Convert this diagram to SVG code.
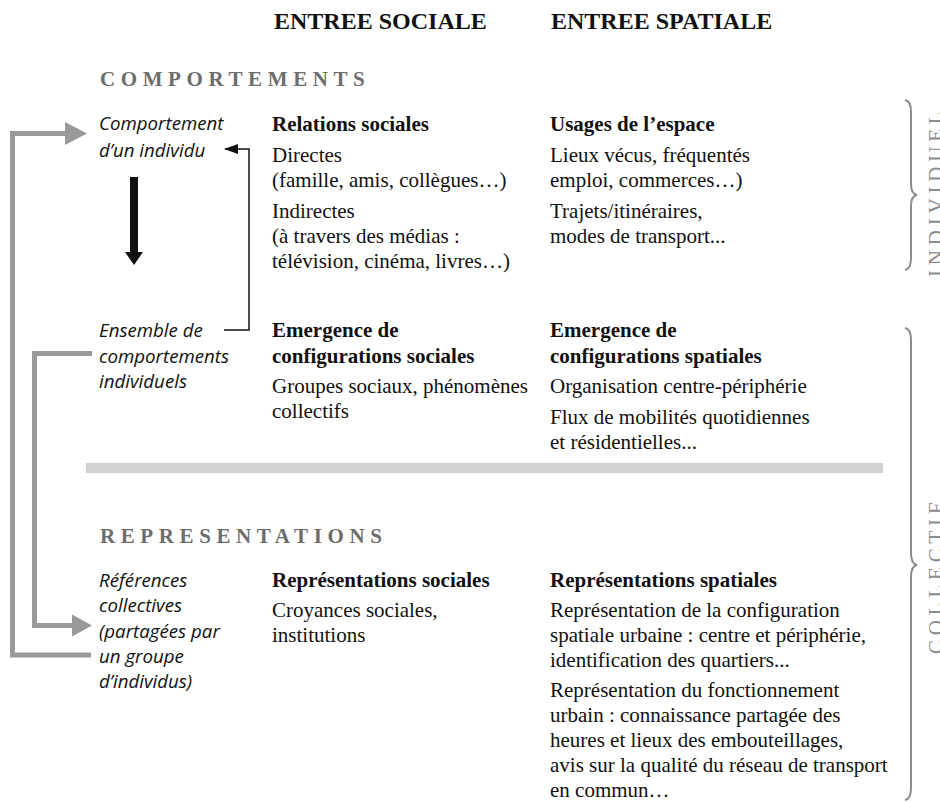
<svg xmlns="http://www.w3.org/2000/svg" width="940" height="803" viewBox="0 0 940 803">
<style>
  .hd { font-family: "Liberation Serif", serif; font-weight: bold; font-size: 24px; fill: #111; }
  .sec { font-family: "Liberation Serif", serif; font-weight: bold; font-size: 21px; fill: #6d6d6d; letter-spacing: 5.6px; }
  .side { font-family: "Liberation Serif", serif; font-size: 21px; fill: #8c8c8c; letter-spacing: 4.8px; }
  .b { font-family: "Liberation Serif", serif; font-weight: bold; font-size: 21px; fill: #111; }
  .t { font-family: "Liberation Serif", serif; font-size: 21px; fill: #111; }
  .it { font-family: "Open Sans", "Noto Sans", sans-serif; font-style: italic; font-size: 18.7px; fill: #111; }
  .garrow { fill: none; stroke: #999999; stroke-width: 5; }
  .brace { fill: none; stroke: #8c8c8c; stroke-width: 2; }
</style>
<defs>
  <marker id="ah" markerWidth="14" markerHeight="10" refX="13" refY="5" orient="auto" markerUnits="userSpaceOnUse">
    <path d="M0,0 L14,5 L0,10 Z" fill="#111"/>
  </marker>
</defs>
<rect width="940" height="803" fill="#ffffff"/>

<g id="headers">
  <text class="hd" x="274" y="29">ENTREE SOCIALE</text>
  <text class="hd" x="551" y="29">ENTREE SPATIALE</text>
  <text class="sec" x="100" y="86">COMPORTEMENTS</text>
  <text class="sec" x="100" y="543">REPRESENTATIONS</text>
</g>

<g id="separator">
  <rect x="86" y="463" width="797" height="10" fill="#d2d2d2"/>
</g>

<g id="node-comportement-individu">
  <text class="it" x="99" y="130">Comportement</text>
  <text class="it" x="99" y="157">d’un individu</text>
</g>
<g id="node-relations-sociales">
  <text class="b" x="272" y="131">Relations sociales</text>
  <text class="t" x="272" y="162">Directes</text>
  <text class="t" x="272" y="187">(famille, amis, collègues…)</text>
  <text class="t" x="272" y="218">Indirectes</text>
  <text class="t" x="272" y="243">(à travers des médias :</text>
  <text class="t" x="272" y="268">télévision, cinéma, livres…)</text>
</g>
<g id="node-usages-espace">
  <text class="b" x="550" y="131">Usages de l’espace</text>
  <text class="t" x="550" y="162">Lieux vécus, fréquentés</text>
  <text class="t" x="550" y="187">emploi, commerces…)</text>
  <text class="t" x="550" y="218">Trajets/itinéraires,</text>
  <text class="t" x="550" y="243">modes de transport...</text>
</g>

<g id="node-ensemble-comportements">
  <text class="it" x="99" y="337">Ensemble de</text>
  <text class="it" x="99" y="363">comportements</text>
  <text class="it" x="99" y="388">individuels</text>
</g>
<g id="node-configurations-sociales">
  <text class="b" x="272" y="337">Emergence de</text>
  <text class="b" x="272" y="363">configurations sociales</text>
  <text class="t" x="272" y="393">Groupes sociaux, phénomènes</text>
  <text class="t" x="272" y="418">collectifs</text>
</g>
<g id="node-configurations-spatiales">
  <text class="b" x="550" y="337">Emergence de</text>
  <text class="b" x="550" y="363">configurations spatiales</text>
  <text class="t" x="550" y="393">Organisation centre-périphérie</text>
  <text class="t" x="550" y="424">Flux de mobilités quotidiennes</text>
  <text class="t" x="550" y="449">et résidentielles...</text>
</g>

<g id="node-references-collectives">
  <text class="it" x="99" y="587">Références</text>
  <text class="it" x="99" y="612">collectives</text>
  <text class="it" x="99" y="638">(partagées par</text>
  <text class="it" x="99" y="663">un groupe</text>
  <text class="it" x="99" y="688">d’individus)</text>
</g>
<g id="node-representations-sociales">
  <text class="b" x="272" y="587">Représentations sociales</text>
  <text class="t" x="272" y="617">Croyances sociales,</text>
  <text class="t" x="272" y="642">institutions</text>
</g>
<g id="node-representations-spatiales">
  <text class="b" x="550" y="587">Représentations spatiales</text>
  <text class="t" x="550" y="617">Représentation de la configuration</text>
  <text class="t" x="550" y="642">spatiale urbaine : centre et périphérie,</text>
  <text class="t" x="550" y="667">identification des quartiers...</text>
  <text class="t" x="550" y="697">Représentation du fonctionnement</text>
  <text class="t" x="550" y="722">urbain : connaissance partagée des</text>
  <text class="t" x="550" y="747">heures et lieux des embouteillages,</text>
  <text class="t" x="550" y="772">avis sur la qualité du réseau de transport</text>
  <text class="t" x="550" y="797">en commun…</text>
</g>

<g id="brace-individuel">
  <path class="brace" d="M905,100 Q911,101 911,112 L911,184 Q911,194 917,195 Q911,196 911,206 L911,258 Q911,269 905,270"/>
  <text class="side" transform="translate(943,277) rotate(-90)">INDIVIDUEL</text>
</g>
<g id="brace-collectif">
  <path class="brace" d="M905,328 Q911,329 911,340 L911,553 Q911,564 917,565 Q911,566 911,577 L911,788 Q911,799 905,800"/>
  <text class="side" transform="translate(943,654) rotate(-90)">COLLECTIF</text>
</g>

<g id="connectors">
  <path d="M130,177 L138,177 L138,252 L143,252 L134,265 L125,252 L130,252 Z" fill="#111"/>
  <polyline points="224,330 249,330 249,149 225,149" fill="none" stroke="#111" stroke-width="1.5" marker-end="url(#ah)"/>
  <polyline class="garrow" points="91,655 12.5,655 12.5,133.5 68,133.5"/>
  <path d="M65,122 L87,133.5 L65,145 Z" fill="#999999"/>
  <polyline class="garrow" points="92,353.5 34.5,353.5 34.5,625.5 74,625.5"/>
  <path d="M72,614.5 L92,625.5 L72,636.5 Z" fill="#999999"/>
</g>
</svg>
